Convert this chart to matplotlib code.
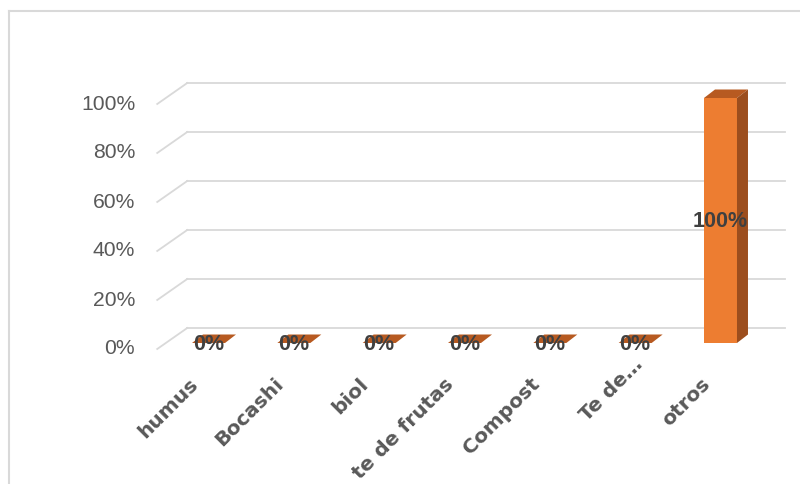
import matplotlib
matplotlib.use("Agg")
import matplotlib.pyplot as plt
from matplotlib.patches import Polygon
from matplotlib.lines import Line2D

categories = ["humus", "Bocashi", "biol", "te de frutas", "Compost", "Te de…", "otros"]
values = [0, 0, 0, 0, 0, 0, 100]
y_ticks = [0, 20, 40, 60, 80, 100]
y_labels = ["0%", "20%", "40%", "60%", "80%", "100%"]

W, H = 800, 484
fig = plt.figure(figsize=(W / 100, H / 100), dpi=100)
ax = fig.add_axes([0, 0, 1, 1])
ax.axis("off")

# pixel layout of the "bar plane" (category 0 centre, spacing, y=0 row, px per %)
x0_px, step_px = 208.5, 85.33
y0_px, unit_px = 343, 2.45
ax.set_xlim(-x0_px / step_px, (W - x0_px) / step_px)
ax.set_ylim(-(H - y0_px) / unit_px, y0_px / unit_px)

def px(dx, dy):
    # pixel offset (image coords, y down) -> data units
    return dx / step_px, -dy / unit_px

back = px(21.4, -15)
front = px(-8.6, 6)
depth = px(11, -8.5)
bar_w = 33 / step_px
left, right = -0.5, len(categories) - 0.5

grid_col = "#D9D9D9"
for v, lab in zip(y_ticks, y_labels):
    ax.plot([left + back[0], right + back[0]], [v + back[1]] * 2,
            color=grid_col, lw=1.3, zorder=1)
    ax.plot([left + back[0], left + front[0]], [v + back[1], v + front[1]],
            color=grid_col, lw=1.3, zorder=1)
    ax.text(left + front[0] - 22 / step_px, v + front[1], lab, ha="right", va="center",
            fontsize=15.2, color="#595959", family="Liberation Sans")

front_col, side_col, top_col = "#ED7D31", "#9C4E1E", "#B75A21"
x = list(range(len(categories)))
ax.bar(x, values, width=bar_w, color=front_col, zorder=3)
for i, v in zip(x, values):
    xl, xr = i - bar_w / 2, i + bar_w / 2
    top = [(xl, v), (xr, v), (xr + depth[0], v + depth[1]), (xl + depth[0], v + depth[1])]
    ax.add_patch(Polygon(top, closed=True, color=top_col, lw=0, zorder=3))
    if v > 0:
        side = [(xr, 0), (xr + depth[0], depth[1]), (xr + depth[0], v + depth[1]), (xr, v)]
        ax.add_patch(Polygon(side, closed=True, color=side_col, lw=0, zorder=3))
    ax.text(i, v / 2 - 0.5, f"{v}%", ha="center", va="center", fontsize=15.5,
            fontweight="bold", color="#404040", family="Liberation Sans", zorder=5)

for i, lab in enumerate(categories):
    lx, ly = i - 13.5 / step_px, -38 / unit_px
    if lab.endswith("…"):
        lx, ly = lx + 18 / step_px, ly + 19.5 / unit_px
    ax.text(lx, ly, lab, rotation=45, rotation_mode="anchor", ha="right", va="center",
            fontsize=14.5, fontweight="bold", color="#595959", family="DejaVu Sans")

# chart frame
fig.add_artist(Line2D([9 / W, 1], [1 - 11 / H] * 2, color=grid_col, lw=1.5))
fig.add_artist(Line2D([9 / W] * 2, [0, 1 - 11 / H], color=grid_col, lw=1.5))

fig.savefig("out.png", dpi=100)
